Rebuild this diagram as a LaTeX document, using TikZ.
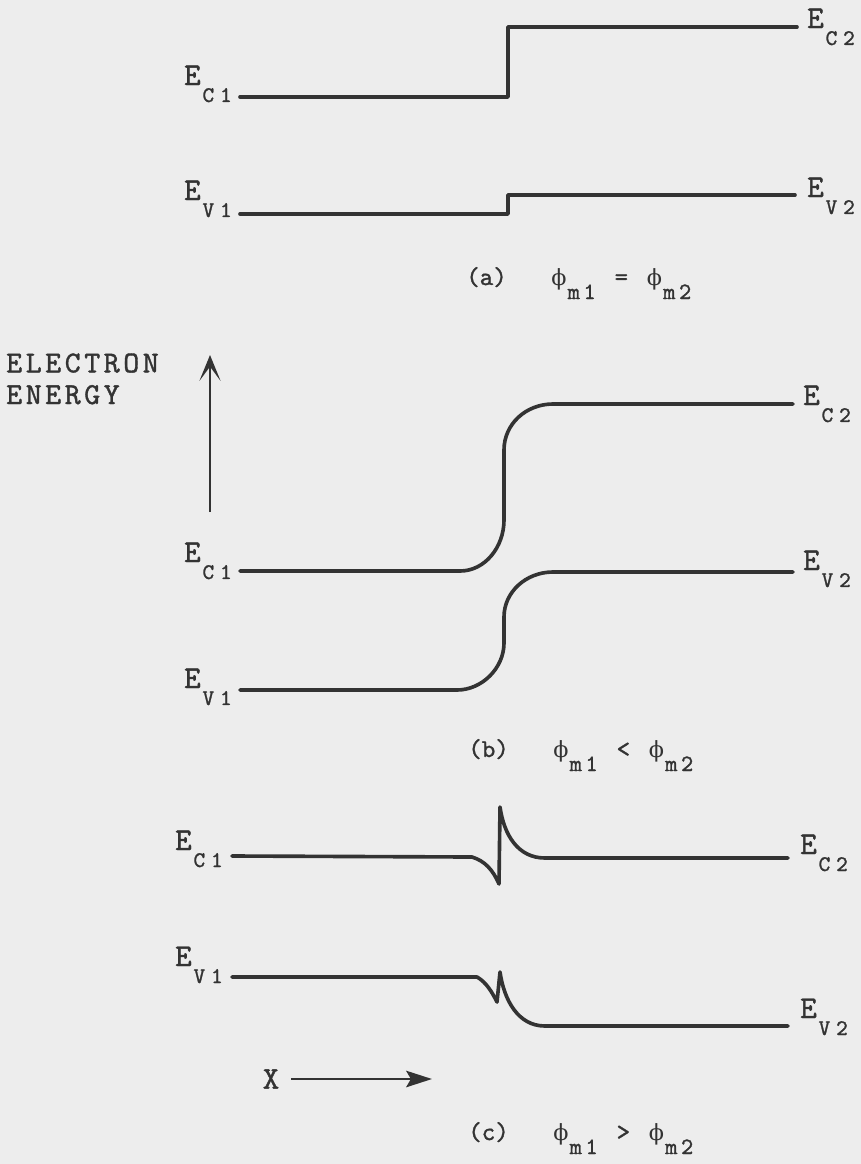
\documentclass[tikz,border=0pt]{standalone}
\usepackage{fontspec}
\newfontfamily\tw{lmmono10-regular.otf}[FakeBold=1.2]
\newfontfamily\grk{DejaVu Serif}
\usetikzlibrary{arrows.meta}

% band label E with a lowered subscript, and the work function phi_m
\newcommand{\lev}[2]{E\kern1.5pt\raisebox{-14.5pt}{\fontsize{19}{19}\selectfont #1\kern5pt#2}}
\newcommand{\wfm}[1]{{\grk\fontsize{19}{19}\selectfont ϕ}\kern1pt\raisebox{-12pt}{\fontsize{20}{20}\selectfont m\kern3pt#1}}
\makeatletter
\newcommand{\tracked}[1]{\@tfor\tr@ck:=#1\do{\tr@ck\kern3pt}\unkern}
\makeatother

\begin{document}
\begin{tikzpicture}[x=0.03cm, y=-0.03cm,
  band/.style={line width=3.1pt, draw=black!80, line join=round, line cap=round},
  axis/.style={line width=2.4pt, draw=black!80},
  lbl/.style={inner sep=0pt, text=black!80, font=\tw\fontsize{27}{27}\selectfont},
  capt/.style={inner sep=0pt, text=black!80, font=\tw\fontsize{22}{24}\selectfont}]
  \fill[black!7] (0,0) rectangle (861,1164);
  \useasboundingbox (0,0) rectangle (861,1164);

  % (a) abrupt step
  \coordinate (ac1) at (240,97);
  \coordinate (ac2) at (797,27);
  \coordinate (av1) at (240,214);
  \coordinate (av2) at (795,195);
  \draw[band] (ac1) -- (508,97) |- (ac2);
  \draw[band] (av1) -- (508,214) |- (av2);
  \node[lbl, anchor=base east] (ec1a) at ([shift={(-8,-12)}]ac1) {\lev{C}{1}};
  \node[lbl, anchor=base west] (ec2a) at ([shift={(10,1)}]ac2) {\lev{C}{2}};
  \node[lbl, anchor=base east] (ev1a) at ([shift={(-8,-14)}]av1) {\lev{V}{1}};
  \node[lbl, anchor=base west] (ev2a) at ([shift={(12,2)}]av2) {\lev{V}{2}};
  \node[capt, anchor=base west] (capa) at (466,285)
    {(a)\hspace{38pt}\wfm{1}\hspace{16pt}=\hspace{16pt}\wfm{2}};

  % energy axis
  \node[lbl, anchor=base west, align=left, font=\tw\fontsize{26}{27}\selectfont]
    (elab) at (6,404) {\tracked{ELECTRON}\\\tracked{ENERGY}};
  \coordinate (elo) at (210,512);
  \coordinate (ehi) at (210,355);
  \draw[axis, -{Stealth[length=22pt, width=18pt, inset=12pt]}] (elo) -- (ehi);

  % (b) smooth bending
  \coordinate (bc1) at (240,571);
  \coordinate (bc2) at (793,404);
  \coordinate (bv1) at (240,690);
  \coordinate (bv2) at (793,572);
  \draw[band] (bc1) -- (460,571) .. controls (485,571) and (504,547) .. (504,520)
    -- (504,450) .. controls (504,424) and (526,404) .. (553,404) -- (bc2);
  \draw[band] (bv1) -- (457,690) .. controls (482,690) and (504,668) .. (504,643)
    -- (504,617) .. controls (504,592) and (526,572) .. (553,572) -- (bv2);
  \node[lbl, anchor=base east] (ec1b) at ([shift={(-8,-9)}]bc1) {\lev{C}{1}};
  \node[lbl, anchor=base west] (ec2b) at ([shift={(10,1)}]bc2) {\lev{C}{2}};
  \node[lbl, anchor=base east] (ev1b) at ([shift={(-8,-2)}]bv1) {\lev{V}{1}};
  \node[lbl, anchor=base west] (ev2b) at ([shift={(10,-2)}]bv2) {\lev{V}{2}};
  \node[capt, anchor=base west] (capb) at (468,757)
    {(b)\hspace{38pt}\wfm{1}\hspace{16pt}<\hspace{16pt}\wfm{2}};

  % (c) spikes
  \coordinate (cc1) at (232,856);
  \coordinate (cc2) at (788,858);
  \coordinate (cv1) at (232,977);
  \coordinate (cv2) at (788,1026);
  \draw[band] (cc1) -- (472,857) .. controls (485,861) and (493,870) .. (499,884)
    -- (500,807) .. controls (504,835) and (518,858) .. (545,858) -- (cc2);
  \draw[band] (cv1) -- (477,977) .. controls (486,982) and (492,992) .. (497,1002)
    -- (500,972) .. controls (504,1000) and (518,1026) .. (545,1026) -- (cv2);
  \node[lbl, anchor=base east] (ec1c) at ([shift={(-9,-6)}]cc1) {\lev{C}{1}};
  \node[lbl, anchor=base west] (ec2c) at ([shift={(12,-4)}]cc2) {\lev{C}{2}};
  \node[lbl, anchor=base east] (ev1c) at ([shift={(-9,-11)}]cv1) {\lev{V}{1}};
  \node[lbl, anchor=base west] (ev2c) at ([shift={(12,-8)}]cv2) {\lev{V}{2}};

  % x axis
  \node[lbl] (xlab) at (271,1079) {X};
  \coordinate (xend) at (432,1079);
  \draw[axis, shorten <=10pt, -{Stealth[length=22pt, width=14pt, inset=4pt]}] (xlab) -- (xend);
  \node[capt, anchor=base west] (capc) at (468,1140)
    {(c)\hspace{38pt}\wfm{1}\hspace{16pt}>\hspace{16pt}\wfm{2}};
\end{tikzpicture}
\end{document}
